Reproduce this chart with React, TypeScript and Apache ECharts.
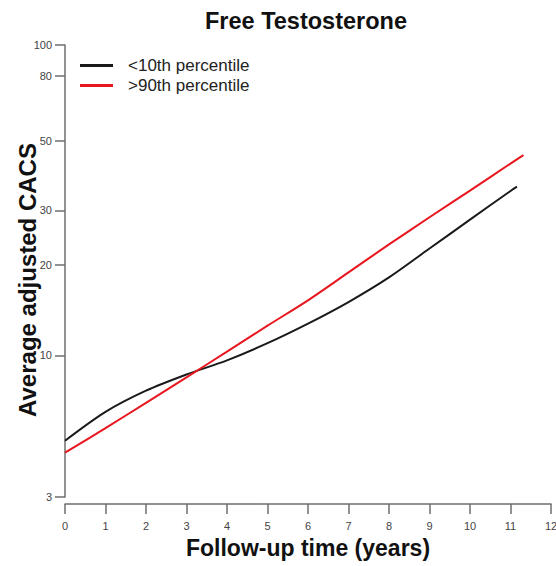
import React, { useEffect, useRef } from "react";
import * as echarts from "echarts";

const titleText = "Free Testosterone";
const xName = "Follow-up time (years)";
const yName = "Average adjusted CACS";
const seriesNames = ["<10th percentile", ">90th percentile"];

const lowYears = [0, 1, 2, 3, 4, 5, 6, 7, 8, 9, 10, 11, 11.16];
const lowValues = [4.98, 6.35, 7.55, 8.6, 9.62, 11.0, 12.8, 15.1, 18.2, 22.6, 28.0, 34.6, 35.7];

const highYears = [0, 1, 2, 3, 4, 5, 6, 7, 8, 9, 10, 11, 11.32];
const highValues = [4.49, 5.54, 6.84, 8.4, 10.3, 12.6, 15.3, 18.9, 23.3, 28.5, 34.7, 42.3, 45.0];

const yTicks = [3, 10, 20, 30, 50, 80, 100];
const xTicks = [0, 1, 2, 3, 4, 5, 6, 7, 8, 9, 10, 11, 12];

const tf = (v: number) => Math.log10(v + 1);

export default function App() {
  const ref = useRef<HTMLDivElement>(null);
  useEffect(() => {
    if (!ref.current) return;
    const chart = echarts.init(ref.current, undefined, { renderer: "svg" });
    const font = "'Liberation Sans', Arial, sans-serif";
    const axisColor = "#6e6e6e";
    chart.setOption({
      animation: false,
      backgroundColor: "#ffffff",
      textStyle: { fontFamily: font },
      title: {
        text: titleText,
        left: 301,
        top: 4,
        textAlign: "center",
        textStyle: { fontSize: 23.5, fontWeight: "bold", color: "#111", fontFamily: font },
      },
      legend: {
        orient: "vertical",
        left: 75,
        top: 52,
        itemWidth: 33,
        itemHeight: 3,
        itemGap: 3,
        icon: "rect",
        data: seriesNames,
        textStyle: {
          fontSize: 17,
          lineHeight: 17,
          color: "#222",
          fontFamily: font,
          padding: [0, 0, 0, 10],
        },
      },
      grid: {
        left: 65,
        right: 5,
        top: 45,
        bottom: 69,
        containLabel: false,
        outerBoundsMode: "none",
      },
      xAxis: {
        type: "value",
        min: xTicks[0],
        max: xTicks[xTicks.length - 1],
        interval: 1,
        offset: 7,
        name: xName,
        nameLocation: "middle",
        nameGap: 32,
        nameMoveOverlap: false,
        nameTextStyle: { fontSize: 23, fontWeight: "bold", color: "#111", fontFamily: font },
        axisLine: { show: true, lineStyle: { color: axisColor, width: 1.5 } },
        axisTick: { show: true, length: 10, lineStyle: { color: axisColor, width: 1.5 } },
        axisLabel: {
          fontSize: 11,
          color: "#444",
          margin: 16,
          fontFamily: font,
          showMinLabel: true,
          showMaxLabel: true,
          hideOverlap: false,
        },
        splitLine: { show: false },
      },
      yAxis: {
        type: "value",
        min: tf(yTicks[0]),
        max: tf(yTicks[yTicks.length - 1]),
        name: yName,
        nameLocation: "middle",
        nameGap: 26,
        nameMoveOverlap: false,
        nameTextStyle: {
          fontSize: 24,
          fontWeight: "bold",
          color: "#111",
          fontFamily: font,
          padding: [0, 18, 0, 0],
        },
        axisLine: { show: true, lineStyle: { color: axisColor, width: 1.5 } },
        axisTick: {
          show: true,
          length: 10,
          customValues: yTicks.map(tf),
          lineStyle: { color: axisColor, width: 1.5 },
        },
        axisLabel: {
          fontSize: 11,
          color: "#444",
          margin: 13,
          fontFamily: font,
          customValues: yTicks.map(tf),
          formatter: (v: number) => String(Math.round(Math.pow(10, v) - 1)),
        },
        splitLine: { show: false },
      },
      series: [
        {
          name: seriesNames[0],
          type: "line",
          smooth: 0.3,
          showSymbol: false,
          symbol: "none",
          color: "#1a1a1a",
          lineStyle: { color: "#1a1a1a", width: 2 },
          data: lowYears.map((x, i) => [x, tf(lowValues[i])]),
        },
        {
          name: seriesNames[1],
          type: "line",
          smooth: 0.3,
          showSymbol: false,
          symbol: "none",
          color: "#e8161e",
          lineStyle: { color: "#e8161e", width: 2 },
          data: highYears.map((x, i) => [x, tf(highValues[i])]),
        },
      ],
    });
    return () => chart.dispose();
  }, []);
  return (
    <div
      ref={ref}
      style={{ position: "fixed", left: 0, top: 0, width: 556, height: 566 }}
    />
  );
}
